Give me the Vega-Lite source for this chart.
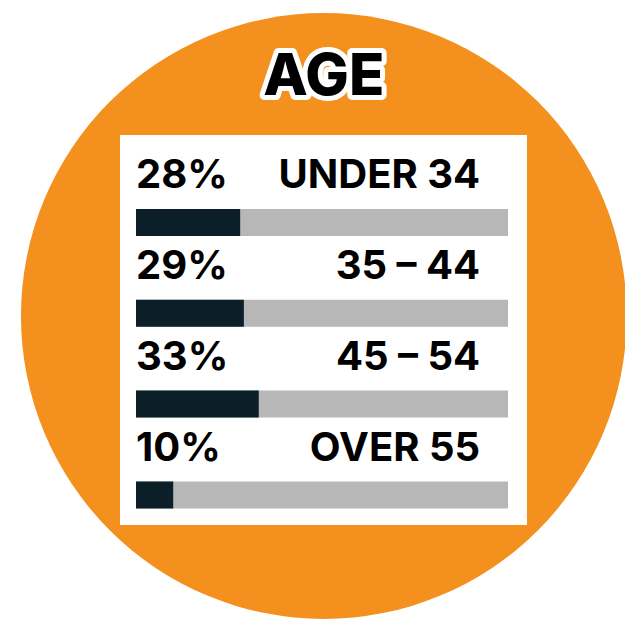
{
  "$schema": "https://vega.github.io/schema/vega-lite/v6.json",
  "width": 625,
  "height": 625,
  "padding": 0,
  "autosize": {"type": "none"},
  "background": "white",
  "config": {"view": {"stroke": null}},
  "data": {"values": [
    {"group": "UNDER 34", "row": 1, "share": 0.28},
    {"group": "35 – 44", "row": 2, "share": 0.29},
    {"group": "45 – 54", "row": 3, "share": 0.33},
    {"group": "OVER 55", "row": 4, "share": 0.10}
  ]},
  "layer": [
    {
      "data": {"values": [{"shape": "circle"}]},
      "mark": {"type": "point", "shape": "circle", "filled": true, "color": "#F4911E", "opacity": 1, "size": 367000},
      "encoding": {
        "x": {"datum": 0.505, "type": "quantitative", "scale": {"domain": [-0.3656, 1.3145], "nice": false, "zero": false}, "axis": null},
        "y": {"datum": 2.03, "type": "quantitative", "scale": {"domain": [-1.4504, 5.4328], "nice": false, "zero": false, "reverse": true}, "axis": null}
      }
    },
    {
      "data": {"values": [{"box": "panel"}]},
      "mark": {"type": "rect", "color": "white"},
      "encoding": {
        "x": {"datum": -0.043, "type": "quantitative", "scale": {"domain": [-0.3656, 1.3145], "nice": false, "zero": false}, "axis": null},
        "x2": {"datum": 1.051},
        "y": {"datum": 0.036, "type": "quantitative", "scale": {"domain": [-1.4504, 5.4328], "nice": false, "zero": false, "reverse": true}, "axis": null},
        "y2": {"datum": 4.332}
      }
    },
    {
      "data": {"values": [{"title": "AGE"}]},
      "mark": {"type": "text", "font": "Inter", "fontWeight": 800, "fontSize": 58, "align": "center", "baseline": "alphabetic", "stroke": "white", "strokeWidth": 10, "strokeJoin": "round", "fill": "white"},
      "encoding": {
        "x": {"datum": 0.505, "type": "quantitative", "scale": {"domain": [-0.3656, 1.3145], "nice": false, "zero": false}, "axis": null},
        "y": {"datum": -0.404, "type": "quantitative", "scale": {"domain": [-1.4504, 5.4328], "nice": false, "zero": false, "reverse": true}, "axis": null},
        "text": {"field": "title", "type": "nominal"}
      }
    },
    {
      "data": {"values": [{"title": "AGE"}]},
      "mark": {"type": "text", "font": "Inter", "fontWeight": 800, "fontSize": 58, "align": "center", "baseline": "alphabetic", "fill": "black"},
      "encoding": {
        "x": {"datum": 0.505, "type": "quantitative", "scale": {"domain": [-0.3656, 1.3145], "nice": false, "zero": false}, "axis": null},
        "y": {"datum": -0.404, "type": "quantitative", "scale": {"domain": [-1.4504, 5.4328], "nice": false, "zero": false, "reverse": true}, "axis": null},
        "text": {"field": "title", "type": "nominal"}
      }
    },
    {
      "mark": {"type": "rule", "color": "#B7B7B7", "strokeWidth": 27, "strokeCap": "butt"},
      "encoding": {
        "x": {"datum": 0, "type": "quantitative", "scale": {"domain": [-0.3656, 1.3145], "nice": false, "zero": false}, "axis": null},
        "x2": {"datum": 1},
        "y": {"field": "row", "type": "quantitative", "scale": {"domain": [-1.4504, 5.4328], "nice": false, "zero": false, "reverse": true}, "axis": null}
      }
    },
    {
      "mark": {"type": "rule", "color": "#0C1F28", "strokeWidth": 27, "strokeCap": "butt"},
      "encoding": {
        "x": {"field": "share", "type": "quantitative", "scale": {"domain": [-0.3656, 1.3145], "nice": false, "zero": false}, "axis": null},
        "x2": {"datum": 0},
        "y": {"field": "row", "type": "quantitative", "scale": {"domain": [-1.4504, 5.4328], "nice": false, "zero": false, "reverse": true}, "axis": null}
      }
    },
    {
      "mark": {"type": "text", "font": "Inter", "fontWeight": 700, "fontSize": 40, "align": "left", "baseline": "alphabetic", "dy": -34, "color": "black"},
      "encoding": {
        "x": {"datum": 0, "type": "quantitative", "scale": {"domain": [-0.3656, 1.3145], "nice": false, "zero": false}, "axis": null},
        "y": {"field": "row", "type": "quantitative", "scale": {"domain": [-1.4504, 5.4328], "nice": false, "zero": false, "reverse": true}, "axis": null},
        "text": {"field": "share", "type": "quantitative", "format": ".0%"}
      }
    },
    {
      "mark": {"type": "text", "font": "Inter", "fontWeight": 700, "fontSize": 40, "align": "right", "baseline": "alphabetic", "dy": -34, "color": "black"},
      "encoding": {
        "x": {"datum": 0.925, "type": "quantitative", "scale": {"domain": [-0.3656, 1.3145], "nice": false, "zero": false}, "axis": null},
        "y": {"field": "row", "type": "quantitative", "scale": {"domain": [-1.4504, 5.4328], "nice": false, "zero": false, "reverse": true}, "axis": null},
        "text": {"field": "group", "type": "nominal"}
      }
    }
  ]
}
